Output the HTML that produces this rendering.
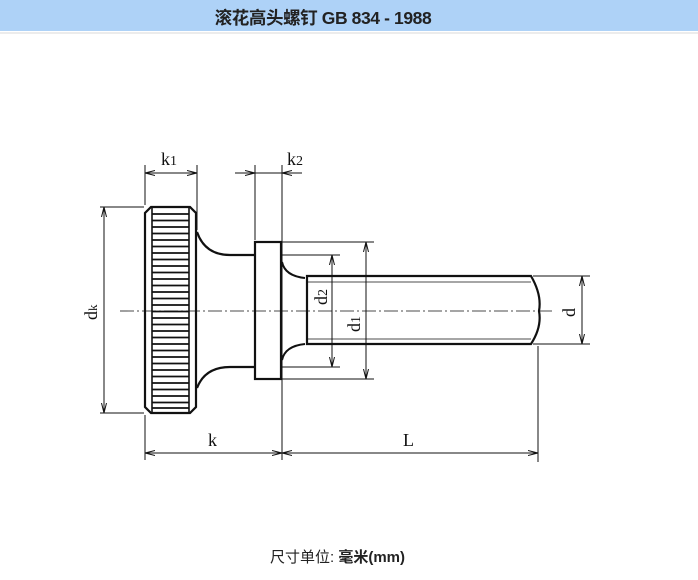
<!DOCTYPE html>
<html><head><meta charset="utf-8"><style>
body{margin:0;width:698px;height:580px;background:#fff;overflow:hidden;font-family:"Liberation Sans","Noto Sans CJK SC",sans-serif}
.bar{position:absolute;left:0;top:0;width:698px;height:31px;background:#aed2f7}
.bar div{position:absolute;left:0;width:646px;top:5px;text-align:center;font-size:17.5px;font-weight:bold;color:#222;letter-spacing:-0.4px}
.sep{position:absolute;left:0;top:32px;width:698px;height:2px;background:#ececec}
.foot{position:absolute;left:270px;top:546px;font-size:15px;color:#222;white-space:nowrap}
svg{position:absolute;left:0;top:0}
</style></head><body>
<div class="bar"><div>滚花高头螺钉 GB 834 - 1988</div></div>
<div class="sep"></div>
<svg width="698" height="580" viewBox="0 0 698 580">
<defs><marker id="a" viewBox="0 0 10 6" refX="10" refY="3" markerWidth="10" markerHeight="6" orient="auto-start-reverse" markerUnits="userSpaceOnUse"><path d="M0,0.5 L10,3 L0,5.5" fill="none" stroke="#111" stroke-width="1"/></marker></defs>
<g stroke="#111" fill="none">
<line x1="120" y1="311" x2="552" y2="311" stroke-width="0.8" stroke-dasharray="14,3,2,3"/>
<path d="M151,207 L190,207 L196,213 L196,407 L190,413 L151,413 L145,407 L145,213 Z" stroke-width="2.2"/>
<line x1="152" y1="208" x2="152" y2="412" stroke-width="1.6"/>
<line x1="189" y1="208" x2="189" y2="412" stroke-width="1.6"/>
<g stroke-width="1.8">
<path d="M152,214H189M152,220.5H189M152,227H189M152,233.5H189M152,240H189M152,246.5H189M152,253H189M152,259.5H189M152,266H189M152,272.5H189M152,279H189M152,285.5H189M152,292H189M152,298.5H189M152,305H189M152,311.5H189M152,318H189M152,324.5H189M152,331H189M152,337.5H189M152,344H189M152,350.5H189M152,357H189M152,363.5H189M152,370H189M152,376.5H189M152,383H189M152,389.5H189M152,396H189M152,402.5H189M152,408H189"/>
</g>
<path d="M197,232 Q205,255 230,255 L255,255" stroke-width="2.2"/>
<path d="M197,388 Q205,367 230,367 L255,367" stroke-width="2.2"/>
<rect x="255" y="242" width="26" height="137" stroke-width="2.2"/>
<path d="M282,262 Q285,276 305,278" stroke-width="2"/>
<path d="M282,360 Q285,346 305,344" stroke-width="2"/>
<path d="M307,276 L531,276 Q542,295 539,311 Q542,327 531,344 L307,344 Z" stroke-width="2.2"/>
<line x1="307" y1="282" x2="531" y2="282" stroke-width="0.8"/>
<line x1="307" y1="339" x2="531" y2="339" stroke-width="0.8"/>
<g stroke-width="1">
<line x1="145" y1="165" x2="145" y2="205"/>
<line x1="197" y1="165" x2="197" y2="230"/>
<line x1="255" y1="165" x2="255" y2="240"/>
<line x1="282" y1="165" x2="282" y2="460"/>
<line x1="145" y1="415" x2="145" y2="460"/>
<line x1="538" y1="346" x2="538" y2="462"/>
<line x1="100" y1="207" x2="144" y2="207"/>
<line x1="100" y1="413" x2="144" y2="413"/>
<line x1="282" y1="255" x2="340" y2="255"/>
<line x1="282" y1="367" x2="340" y2="367"/>
<line x1="282" y1="242" x2="374" y2="242"/>
<line x1="282" y1="379" x2="374" y2="379"/>
<line x1="533" y1="276" x2="590" y2="276"/>
<line x1="533" y1="344" x2="590" y2="344"/>
<line x1="145" y1="173" x2="197" y2="173" marker-start="url(#a)" marker-end="url(#a)"/>
<line x1="235" y1="173" x2="255" y2="173" marker-end="url(#a)"/>
<line x1="255" y1="173" x2="282" y2="173"/>
<line x1="302" y1="173" x2="282" y2="173" marker-end="url(#a)"/>
<line x1="104" y1="207" x2="104" y2="413" marker-start="url(#a)" marker-end="url(#a)"/>
<line x1="332" y1="255" x2="332" y2="367" marker-start="url(#a)" marker-end="url(#a)"/>
<line x1="366" y1="242" x2="366" y2="379" marker-start="url(#a)" marker-end="url(#a)"/>
<line x1="582" y1="276" x2="582" y2="344" marker-start="url(#a)" marker-end="url(#a)"/>
<line x1="145" y1="453" x2="282" y2="453" marker-start="url(#a)" marker-end="url(#a)"/>
<line x1="282" y1="453" x2="538" y2="453" marker-start="url(#a)" marker-end="url(#a)"/>
</g>
</g>
<g font-family="Liberation Serif, serif" font-size="18" fill="#111">
<text x="161" y="165">k<tspan font-size="14">1</tspan></text>
<text x="287" y="165">k<tspan font-size="14">2</tspan></text>
<text x="208" y="446">k</text>
<text x="403" y="446">L</text>
<text transform="translate(97,320) rotate(-90)">d<tspan font-size="13">k</tspan></text>
<text transform="translate(327,305) rotate(-90)">d<tspan font-size="14">2</tspan></text>
<text transform="translate(360,332) rotate(-90)">d<tspan font-size="14">1</tspan></text>
<text transform="translate(575,317) rotate(-90)">d</text>
</g>
</svg>
<div class="foot">尺寸单位: <b>毫米(mm)</b></div>
</body></html>
